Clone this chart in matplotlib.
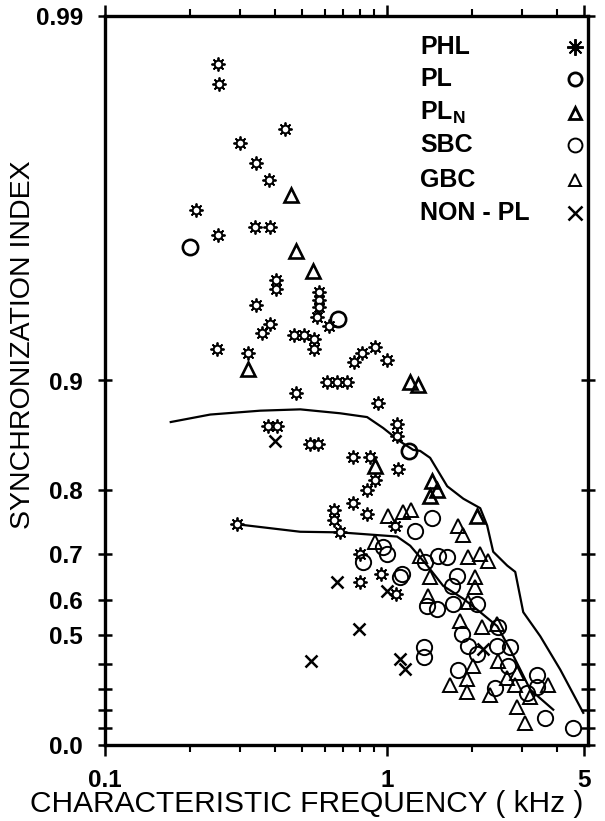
import numpy as np
import matplotlib
matplotlib.use("Agg")
import matplotlib.pyplot as plt
from matplotlib.ticker import NullLocator, NullFormatter, FixedLocator

plt.rcParams['font.family'] = ['Liberation Sans', 'DejaVu Sans']
plt.rcParams['mathtext.fontset'] = 'custom'
plt.rcParams['mathtext.rm'] = 'Liberation Sans:bold'

# --- data (characteristic frequency in kHz, synchronization index) ---
phl_f = [0.252, 0.254, 0.435, 0.301, 0.343, 0.382, 0.210, 0.252, 0.340, 0.385,
         0.404, 0.404, 0.343, 0.360, 0.385, 0.250, 0.321, 0.574, 0.574, 0.574,
         0.565, 0.623, 0.468, 0.508, 0.551, 0.551, 0.764, 0.815, 0.906, 1.0,
         0.613, 0.665, 0.721, 0.476, 0.929, 0.378, 0.407, 1.084, 1.084, 0.533,
         0.569, 0.757, 0.871, 1.094, 0.849, 0.906, 0.757, 0.649, 0.649, 0.849,
         1.067, 0.294, 0.681, 0.802, 0.802, 0.952, 1.077]
phl_si = [0.9865, 0.9846, 0.9796, 0.9777, 0.9747, 0.9718, 0.966, 0.960, 0.962, 0.962,
          0.947, 0.944, 0.938, 0.926, 0.930, 0.918, 0.916, 0.943, 0.940, 0.937,
          0.933, 0.929, 0.925, 0.925, 0.923, 0.918, 0.911, 0.916, 0.919, 0.912,
          0.899, 0.899, 0.899, 0.892, 0.885, 0.867, 0.867, 0.868, 0.858, 0.851,
          0.851, 0.838, 0.838, 0.825, 0.800, 0.812, 0.783, 0.773, 0.758, 0.767,
          0.750, 0.752, 0.739, 0.701, 0.643, 0.661, 0.615]

pl_f = [0.200, 0.670, 1.197]
pl_si = [0.957, 0.932, 0.844]

pln_f = [0.457, 0.476, 0.547, 0.321, 1.207, 1.288, 1.445, 1.504, 1.420, 2.085, 0.906]
pln_si = [0.969, 0.956, 0.950, 0.907, 0.899, 0.897, 0.811, 0.800, 0.792, 0.764, 0.828]

sbc_f = [0.968, 1.0, 0.822, 1.130, 1.257, 1.445, 1.364, 1.517, 1.632, 1.771,
         1.700, 1.387, 1.504, 1.715, 2.085, 1.845, 2.475, 1.938, 2.085, 2.455,
         2.729, 1.786, 2.686, 2.415, 3.404, 3.404, 3.135, 3.631, 4.566, 1.352,
         1.352, 1.112]
sbc_si = [0.714, 0.701, 0.686, 0.661, 0.742, 0.761, 0.686, 0.697, 0.696, 0.657,
          0.634, 0.584, 0.576, 0.590, 0.590, 0.503, 0.525, 0.464, 0.436, 0.464,
          0.460, 0.379, 0.391, 0.304, 0.359, 0.308, 0.282, 0.158, 0.103, 0.460,
          0.425, 0.654]

gbc_f = [1.008, 1.140, 1.217, 1.786, 1.862, 0.906, 1.309, 1.938, 2.137, 2.280,
         1.420, 2.051, 2.051, 1.397, 1.938, 1.815, 2.173, 2.455, 2.475, 2.018,
         1.672, 1.922, 1.922, 2.317, 2.664, 2.844, 2.891, 3.724, 2.891, 3.085,
         3.214]
gbc_si = [0.764, 0.771, 0.774, 0.750, 0.734, 0.723, 0.697, 0.696, 0.701, 0.688,
          0.654, 0.654, 0.632, 0.610, 0.595, 0.543, 0.525, 0.534, 0.410, 0.391,
          0.317, 0.339, 0.286, 0.272, 0.347, 0.317, 0.367, 0.317, 0.215, 0.131,
          0.263]

non_f = [0.401, 0.665, 1.0, 0.796, 0.537, 1.112, 1.158, 2.189]
non_si = [0.853, 0.643, 0.622, 0.519, 0.410, 0.418, 0.383, 0.453]

upper_f = [0.171, 0.236, 0.355, 0.492, 0.681, 0.849, 0.968, 1.112, 1.237, 1.309,
           1.420, 1.632, 1.862, 2.137, 2.262, 2.376, 2.664, 2.844, 3.036, 3.488,
           4.106, 4.955]
upper_si = [0.870, 0.876, 0.879, 0.880, 0.877, 0.874, 0.865, 0.853, 0.845, 0.844,
            0.837, 0.805, 0.789, 0.776, 0.750, 0.705, 0.678, 0.665, 0.568, 0.497,
            0.379, 0.184]

lower_f = [0.294, 0.492, 0.681, 1.084, 1.207, 1.387, 1.580, 1.862, 2.137, 2.455,
           2.729, 2.964, 3.214, 3.878]
lower_si = [0.752, 0.740, 0.739, 0.732, 0.716, 0.678, 0.634, 0.603, 0.568, 0.528,
            0.453, 0.379, 0.295, 0.200]

legend_names = ['PHL', 'PL', 'PL$_\\mathrm{N}$', 'SBC', 'GBC', 'NON - PL']
y_ticks = [0.0, 0.1, 0.2, 0.3, 0.4, 0.5, 0.6, 0.7, 0.8, 0.9, 0.99]
y_labels = ['0.0', '', '', '', '', '0.5', '0.6', '0.7', '0.8', '0.9', '0.99']


def fwd(y):
    return -np.log10(1 - np.clip(y, -1, 0.9999))


def inv(u):
    return 1 - 10.0 ** (-np.asarray(u))


fig = plt.figure(figsize=(6.05, 8.21), dpi=100)
ax = fig.add_axes([105 / 605, 1 - 745 / 821, 483 / 605, 729 / 821])
ax.set_xscale('log')
ax.set_yscale('function', functions=(fwd, inv))

# curves
ax.plot(upper_f, upper_si, color='black', lw=1.6)
ax.plot(lower_f, lower_si, color='black', lw=1.6)

# data points
ax.plot(phl_f, phl_si, ls='none', marker=(8, 2, 0), ms=10, mec='black', mew=1.3)
ax.plot(phl_f, phl_si, ls='none', marker='o', ms=5.5, mfc='white', mec='black', mew=1.4)
ax.plot(pl_f, pl_si, ls='none', marker='o', ms=11, mfc='none', mec='black', mew=1.9)
ax.plot(pln_f, pln_si, ls='none', marker='^', ms=10, mfc='none', mec='black', mew=1.9)
ax.plot(sbc_f, sbc_si, ls='none', marker='o', ms=11, mfc='none', mec='black', mew=1.4)
ax.plot(gbc_f, gbc_si, ls='none', marker='^', ms=10, mfc='none', mec='black', mew=1.4)
ax.plot(non_f, non_si, ls='none', marker='x', ms=9, mec='black', mew=1.8)

# legend block
leg_y = [0.957, 0.914, 0.867, 0.823, 0.775, 0.730]
leg_styles = [dict(marker=(8, 2, 0), ms=12, mew=1.4),
              dict(marker='o', ms=9.5, mfc='none', mew=2.0),
              dict(marker='^', ms=9, mfc='none', mew=2.0),
              dict(marker='o', ms=10, mfc='none', mew=1.4),
              dict(marker='^', ms=9, mfc='none', mew=1.4),
              dict(marker='x', ms=9.5, mew=1.8)]
for name, yy, st in zip(legend_names, leg_y, leg_styles):
    ax.text(0.652, yy, name, transform=ax.transAxes, fontsize=18, fontweight='bold',
            va='center', ha='left')
    ax.plot([0.973], [yy], transform=ax.transAxes, color='black', ls='none', **st)

# axes
ax.set_xlim(0.1, 5.15)
ax.set_ylim(0.0, 0.99)
ax.set_xticks([0.1, 1, 5])
ax.set_xticklabels(['0.1', '1', '5'])
ax.xaxis.set_minor_formatter(NullFormatter())
ax.xaxis.set_minor_locator(FixedLocator([0.2, 0.3, 0.4, 0.5, 0.6, 0.7, 0.8, 0.9, 2, 3, 4]))
ax.yaxis.set_major_locator(FixedLocator(y_ticks))
ax.set_yticklabels(y_labels)
ax.yaxis.set_minor_locator(NullLocator())

for s in ax.spines.values():
    s.set_linewidth(2.4)

ax.tick_params(axis='y', which='major', direction='inout', length=10, width=1.8,
               left=True, right=True, labelsize=17.5, pad=11)
ax.tick_params(axis='x', which='major', direction='out', length=8, width=1.8,
               bottom=True, top=True, labelsize=17.5, pad=9)
ax.tick_params(axis='x', which='minor', direction='out', length=5, width=1.5,
               bottom=True, top=True)
for lab in ax.get_xticklabels() + ax.get_yticklabels():
    lab.set_fontweight('bold')

ax.set_ylabel('SYNCHRONIZATION INDEX', fontsize=20.5)
ax.yaxis.set_label_coords(-0.143, 0.549)
ax.set_xlabel('CHARACTERISTIC FREQUENCY ( kHz )', fontsize=21.5)
ax.xaxis.set_label_coords(0.418, -0.062)

fig.savefig('out.png', dpi=100)
